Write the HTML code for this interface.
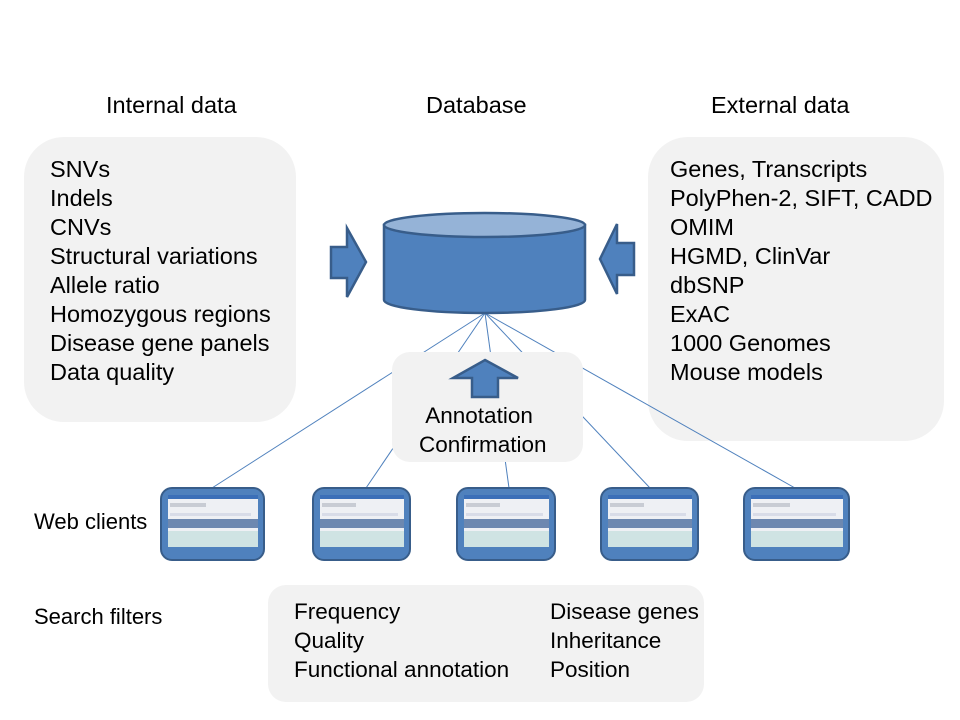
<!DOCTYPE html><html><head><style>
body{margin:0;width:960px;height:720px;background:#fff;position:relative;overflow:hidden;font-family:"Liberation Sans",sans-serif;color:#000}
.a{position:absolute}
.box{position:absolute;background:#f2f2f2}
.t{position:absolute;font-size:23.5px;line-height:29px;white-space:nowrap}
.cl{position:absolute;top:487px;height:74px;background:#4f81bd;border:2px solid #385d8a;border-radius:12px;box-sizing:border-box}
.scr{position:absolute;left:6px;right:5px;top:6px;bottom:12px;background:#eef0f4;overflow:hidden}
.scr .b1{position:absolute;left:0;right:0;top:0;height:4px;background:#3b6fb8}
.scr .b2{position:absolute;left:0;right:0;top:24px;height:9px;background:#6d88b0}
.scr .b3{position:absolute;left:0;right:0;top:36px;height:20px;background:#cfe3e3}
.scr .b4{position:absolute;left:2px;width:40%;top:8px;height:4px;background:#c8ccd4}
.scr .b5{position:absolute;left:2px;width:90%;top:18px;height:3px;background:#d8dce8}
</style></head><body>
<div class="t" style="left:106px;top:91px;font-size:23.5px">Internal data</div>
<div class="t" style="left:426px;top:91px;font-size:23.5px">Database</div>
<div class="t" style="left:711px;top:91px;font-size:23.5px">External data</div>

<div class="box" style="left:24px;top:137px;width:272px;height:285px;border-radius:40px"></div>
<div class="box" style="left:648px;top:137px;width:296px;height:304px;border-radius:40px"></div>
<div class="box" style="left:268px;top:585px;width:436px;height:117px;border-radius:18px"></div>

<div class="t" style="left:50px;top:155px">SNVs<br>Indels<br>CNVs<br>Structural variations<br>Allele ratio<br>Homozygous regions<br>Disease gene panels<br>Data quality</div>
<div class="t" style="left:670px;top:155px">Genes, Transcripts<br>PolyPhen-2, SIFT, CADD<br>OMIM<br>HGMD, ClinVar<br>dbSNP<br>ExAC<br>1000 Genomes<br>Mouse models</div>

<svg class="a" style="left:0;top:0" width="960" height="720">
<g stroke="#4f81bd" stroke-width="1" fill="none">
<line x1="485" y1="313" x2="212" y2="488"/>
<line x1="485" y1="313" x2="366" y2="488"/>
<line x1="485" y1="313" x2="509" y2="488"/>
<line x1="485" y1="313" x2="650" y2="488"/>
<line x1="485" y1="313" x2="795" y2="488"/>
</g>
<rect x="392" y="352" width="191" height="110" rx="18" fill="#f2f2f2"/>
<g fill="#4f81bd" stroke="#385d8a" stroke-width="2.5">
<path d="M384,225 L384,300 A100.5,13 0 0 0 585,300 L585,225 Z"/>
<ellipse cx="484.5" cy="225" rx="100.5" ry="12" fill="#95b3d7"/>
<path d="M331,247 L347,247 L347,228 L366,262 L347,297 L347,278 L331,278 Z"/>
<path d="M634,243 L617,243 L617,224 L600,259 L617,294 L617,275 L634,275 Z"/>
<path d="M485,360 L518,378 L498,378 L498,397 L472,397 L472,378 L453,378 Z"/>
</g>
</svg>
<div class="t" style="left:419px;top:401px;font-size:22.5px">&nbsp;Annotation<br>Confirmation</div>

<div class="t" style="left:34px;top:507px;font-size:22px">Web clients</div>
<div class="t" style="left:34px;top:602px;font-size:22px">Search filters</div>

<div class="cl" style="left:160px;width:105px"><div class="scr"><div class="b1"></div><div class="b4"></div><div class="b5"></div><div class="b2"></div><div class="b3"></div></div></div>
<div class="cl" style="left:312px;width:99px"><div class="scr"><div class="b1"></div><div class="b4"></div><div class="b5"></div><div class="b2"></div><div class="b3"></div></div></div>
<div class="cl" style="left:456px;width:100px"><div class="scr"><div class="b1"></div><div class="b4"></div><div class="b5"></div><div class="b2"></div><div class="b3"></div></div></div>
<div class="cl" style="left:600px;width:99px"><div class="scr"><div class="b1"></div><div class="b4"></div><div class="b5"></div><div class="b2"></div><div class="b3"></div></div></div>
<div class="cl" style="left:743px;width:107px"><div class="scr"><div class="b1"></div><div class="b4"></div><div class="b5"></div><div class="b2"></div><div class="b3"></div></div></div>

<div class="t" style="left:294px;top:597px;font-size:22.5px">Frequency<br>Quality<br>Functional annotation</div>
<div class="t" style="left:550px;top:597px;font-size:22.5px">Disease genes<br>Inheritance<br>Position</div>
</body></html>
